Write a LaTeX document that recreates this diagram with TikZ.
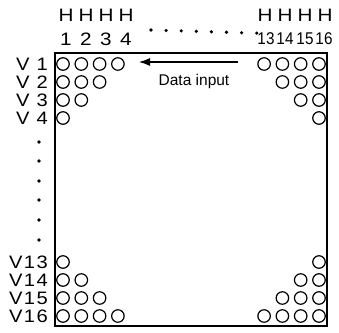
\documentclass[tikz,border=0pt]{standalone}
\usepackage{fontspec}
\setmainfont{Liberation Sans}
\newfontfamily\lblfont[FakeStretch=1.12,LetterSpace=8]{Liberation Sans}
\newfontfamily\hfont[FakeStretch=1.15]{Liberation Sans}
\newfontfamily\nfont[FakeStretch=0.9]{Liberation Sans}
\usetikzlibrary{arrows.meta}
\begin{document}
\begin{tikzpicture}[x=1pt,y=-1pt,
  pin/.style={circle,draw,line width=1.2pt,minimum size=12.5pt,inner sep=0pt},
  vlbl/.style={font=\lblfont\fontsize{18}{18}\selectfont,inner sep=0pt,anchor=east},
  hlbl/.style={font=\hfont\fontsize{18}{18}\selectfont,inner sep=0pt},
  nlbl/.style={font=\nfont\fontsize{17}{17}\selectfont,inner sep=0pt},
  dotmark/.style={fill,circle,minimum size=3.6pt,inner sep=0pt},
  datatext/.style={font=\fontsize{15.5}{15.5}\selectfont,inner sep=0pt}]
\useasboundingbox (0,0) rectangle (339,332);
% chip outline
\node[draw,line width=1.3pt,minimum width=272pt,minimum height=273pt,inner sep=0pt] (chip) at (191,189.5) {};
% pins
\foreach \r in {1,...,4}{
  \pgfmathtruncatemacro\n{5-\r}
  \foreach \c in {1,...,\n}{
    \node[pin] (tl-\r-\c) at ({63+18.3*(\c-1)},{64+18*(\r-1)}) {};
    \node[pin] (tr-\r-\c) at ({319-18.3*(\c-1)},{64+18*(\r-1)}) {};
    \node[pin] (bl-\r-\c) at ({63+18.3*(\c-1)},{316-18*(\r-1)}) {};
    \node[pin] (br-\r-\c) at ({319-18.3*(\c-1)},{316-18*(\r-1)}) {};
  }
}
% row labels
\node[vlbl] (v1) at (48,64) {V 1};
\node[vlbl] (v2) at (48,82) {V 2};
\node[vlbl] (v3) at (48,100) {V 3};
\node[vlbl] (v4) at (48,118) {V 4};
\node[vlbl] (v13) at (48,262) {V13};
\node[vlbl] (v14) at (48,280) {V14};
\node[vlbl] (v15) at (48,298) {V15};
\node[vlbl] (v16) at (48,316) {V16};
% column labels
\foreach \i/\x in {1/66,2/86,3/106,4/126}{
  \node[hlbl] (hh\i) at (\x,15) {H};
  \node[hlbl] (hn\i) at (\x,39) {\i};
}
\foreach \i/\x/\xn in {13/265/266,14/285/285,15/305/305,16/325/324}{
  \node[hlbl] (hh\i) at (\x,15) {H};
  \node[nlbl] (hn\i) at (\xn,39) {\i};
}
% ellipsis dots
\foreach \k in {0,...,7}{
  \node[dotmark] (hd\k) at ({151+15.1*\k},{30+0.45*\k}) {};
}
\foreach \k/\y in {0/142,1/161,2/181,3/200,4/220,5/240}{
  \node[dotmark] (vd\k) at (39,\y) {};
}
% data input arrow
\coordinate (arrS) at (238,62);
\coordinate (arrE) at (139,62);
\draw[-{Latex[length=11pt,width=8pt]},line width=1.2pt] (arrS) -- (arrE);
\node[datatext] (data) at (194,81) {Data input};
\end{tikzpicture}
\end{document}
